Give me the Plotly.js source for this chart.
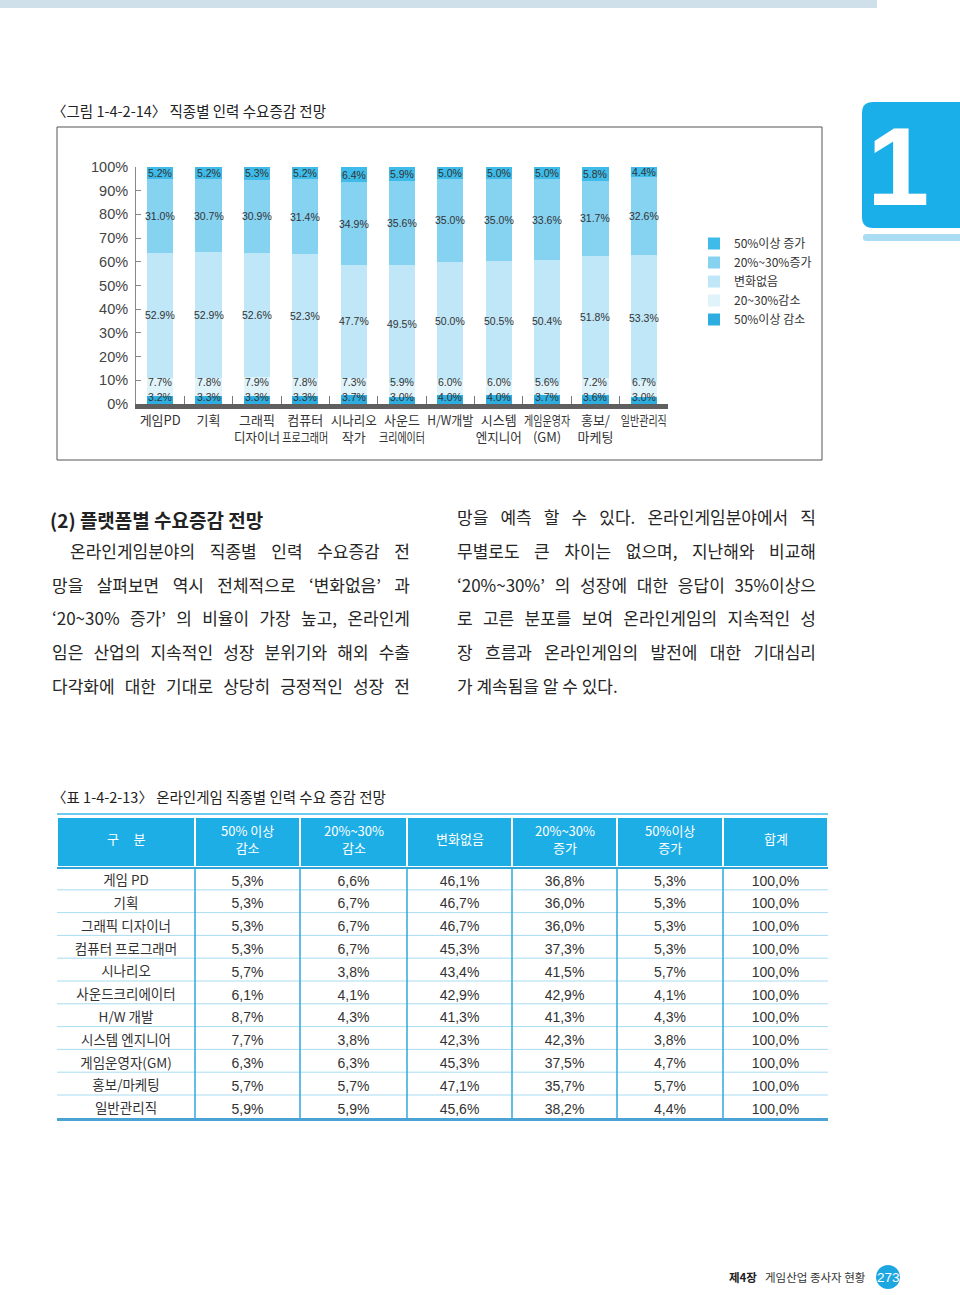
<!DOCTYPE html>
<html>
<head>
<meta charset="utf-8">
<script src="https://cdn.plot.ly/plotly-3.0.1.min.js"></script>
<style>
  html, body { margin:0; padding:0; background:#fff; }
  #wrap { position:relative; width:960px; height:1295px; overflow:hidden; }
  #plot { position:absolute; left:0; top:0; width:960px; height:1295px; }
  .ln { position:absolute; height:26px; line-height:26px; white-space:nowrap;
        font-family:'Noto Sans CJK KR','Noto Sans',sans-serif; font-size:17px; letter-spacing:0px;
        color:#262626; text-align:justify; text-align-last:justify; }
  .ln.last { text-align-last:left; }
  .hd { position:absolute; white-space:nowrap; font-family:'Noto Sans CJK KR','Noto Sans',sans-serif;
        font-weight:700; font-size:19px; color:#222; line-height:26px; height:26px; }
</style>
</head>
<body>
<div id="wrap">
  <div id="plot"></div>
  <div id="textlayer"></div>
</div>
<script>
// ---------------- DATA ----------------
const chartTitle = '〈그림 1-4-2-14〉 직종별 인력 수요증감 전망';
const categories = ['게임PD','기획','그래픽 디자이너','컴퓨터 프로그래머','시나리오 작가','사운드 크리에이터','H/W개발','시스템 엔지니어','게임운영자(GM)','홍보/마케팅','일반관리직'];
const catLabels = ['게임PD','기획','그래픽<br>디자이너','컴퓨터<br>프로그래머','시나리오<br>작가','사운드<br>크리에이터','H/W개발','시스템<br>엔지니어','게임운영자<br>(GM)','홍보/<br>마케팅','일반관리직'];
const seriesNames = ['50%이상 감소','20~30%감소','변화없음','20%~30%증가','50%이상 증가'];
const dec50    = [3.2,3.3,3.3,3.3,3.7,3.0,4.0,4.0,3.7,3.6,3.0];
const dec2030  = [7.7,7.8,7.9,7.8,7.3,5.9,6.0,6.0,5.6,7.2,6.7];
const noChange = [52.9,52.9,52.6,52.3,47.7,49.5,50.0,50.5,50.4,51.8,53.3];
const inc2030  = [31.0,30.7,30.9,31.4,34.9,35.6,35.0,35.0,33.6,31.7,32.6];
const inc50    = [5.2,5.2,5.3,5.2,6.4,5.9,5.0,5.0,5.0,5.8,4.4];
const yTicks   = [0,10,20,30,40,50,60,70,80,90,100];

const headingText = '(2) 플랫폼별 수요증감 전망';
const leftLines = [
  '온라인게임분야의 직종별 인력 수요증감 전',
  '망을 살펴보면 역시 전체적으로 ‘변화없음’ 과',
  '‘20~30% 증가’ 의 비율이 가장 높고, 온라인게',
  '임은 산업의 지속적인 성장 분위기와 해외 수출',
  '다각화에 대한 기대로 상당히 긍정적인 성장 전'
];
const rightLines = [
  '망을 예측 할 수 있다. 온라인게임분야에서 직',
  '무별로도 큰 차이는 없으며, 지난해와 비교해',
  '‘20%~30%’ 의 성장에 대한 응답이 35%이상으',
  '로 고른 분포를 보여 온라인게임의 지속적인 성',
  '장 흐름과 온라인게임의 발전에 대한 기대심리',
  '가 계속됨을 알 수 있다.'
];

const tableTitle = '〈표 1-4-2-13〉 온라인게임 직종별 인력 수요 증감 전망';
const tableHeaders = ['구\u00a0\u00a0\u00a0\u00a0\u00a0분','50% 이상<br>감소','20%~30%<br>감소','변화없음','20%~30%<br>증가','50%이상<br>증가','합계'];
const tableRows = ['게임 PD','기획','그래픽 디자이너','컴퓨터 프로그래머','시나리오','사운드크리에이터','H/W 개발','시스템 엔지니어','게임운영자(GM)','홍보/마케팅','일반관리직'];
const tDec50    = [5.3,5.3,5.3,5.3,5.7,6.1,8.7,7.7,6.3,5.7,5.9];
const tDec2030  = [6.6,6.7,6.7,6.7,3.8,4.1,4.3,3.8,6.3,5.7,5.9];
const tNoChange = [46.1,46.7,46.7,45.3,43.4,42.9,41.3,42.3,45.3,47.1,45.6];
const tInc2030  = [36.8,36.0,36.0,37.3,41.5,42.9,41.3,42.3,37.5,35.7,38.2];
const tInc50    = [5.3,5.3,5.3,5.3,5.7,4.1,4.3,3.8,4.7,5.7,4.4];
const tTotal    = [100,100,100,100,100,100,100,100,100,100,100];

const chapterLabel = '제4장';
const chapterTitle = '게임산업 종사자 현황';
const pageNumber = '273';
const tabNumber = '1';

// ---------------- STYLE ----------------
const W = 960, H = 1295;
const px = x => x / W;
const py = y => 1 - y / H;
const KR = "'Noto Sans CJK KR','Noto Sans',sans-serif";
const NARROW = "'Liberation Sans Narrow','Liberation Sans',Arial,sans-serif";
const barColors = ['#2eaee0','#dff3fb','#bfe7f8','#86d2f1','#3fbbe9'];
const series = [dec50, dec2030, noChange, inc2030, inc50];

// ---------------- TRACES ----------------
const traces = series.map((arr, k) => ({
  type: 'bar', name: seriesNames[k], x: categories, y: arr,
  width: 0.54, marker: { color: barColors[k], line: { width: 0 } },
  hoverinfo: 'skip', xaxis: 'x', yaxis: 'y'
}));

const fmt = v => v.toFixed(1).replace('.', ',') + '%';
const tableCols = [tDec50, tDec2030, tNoChange, tInc2030, tInc50, tTotal].map(a => a.map(fmt));
traces.push({
  type: 'table',
  domain: { x: [px(57), px(828)], y: [py(1140), py(817)] },
  columnwidth: [138,105,107,105,105,106,105],
  header: { values: tableHeaders.map(() => ''), height: 50,
            fill: { color: '#1eaee6' }, line: { color: '#ffffff', width: 2 } },
  cells: { values: [tableRows.map(s => s.replace(/ /g, '\u00a0'))].concat(tableCols),
           height: 22.8, align: 'center',
           fill: { color: 'rgba(0,0,0,0)' }, line: { color: 'rgba(0,0,0,0)', width: 0 },
           font: { family: [KR, NARROW, NARROW, NARROW, NARROW, NARROW, NARROW],
                   size: [13.5, 14, 14, 14, 14, 14, 14], color: '#333' } },
  showlegend: false
});

// ---------------- ANNOTATIONS ----------------
const ann = [];
ann.push({ xref:'paper', yref:'paper', x:px(50), y:py(110), xanchor:'left', yanchor:'middle',
  text: chartTitle, showarrow:false, font:{ family:KR, size:14.5, color:'#222' } });
categories.forEach((c, i) => {
  const tot = series.reduce((s, a) => s + a[i], 0);
  let cum = 0;
  series.forEach((arr, k) => {
    const v = arr[i] / tot * 100;
    const a = { xref:'x', yref:'y', x:c, text: arr[i].toFixed(1) + '%', showarrow:false,
      borderpad:0, font:{ family:NARROW, size:10.5, color:'#333' } };
    if (k === 0) { a.y = 0; a.yanchor = 'bottom'; }
    else if (k === 1) { a.y = 6.2; a.yanchor = 'bottom'; }
    else { a.y = cum + v / 2; a.yanchor = 'middle'; }
    cum += v;
    ann.push(a);
  });
});
ann.push({ xref:'paper', yref:'paper', x:px(50), y:py(797), xanchor:'left', yanchor:'middle',
  text: tableTitle, showarrow:false, font:{ family:KR, size:14.5, color:'#222' } });
const colBounds = [57,195,300,407,512,617,723,828];
tableHeaders.forEach((h, j) => {
  ann.push({ xref:'paper', yref:'paper', x:px((colBounds[j] + colBounds[j+1]) / 2), y:py(839),
    xanchor:'center', yanchor:'middle', text:h, showarrow:false,
    font:{ family:KR, size:13, color:'#ffffff' } });
});
ann.push({ xref:'paper', yref:'paper', x:px(898), y:py(166), xanchor:'center', yanchor:'middle',
  text:'<b>' + tabNumber + '</b>', showarrow:false, font:{ family:"'Liberation Sans',Arial,sans-serif", size:112, color:'#ffffff' } });
ann.push({ xref:'paper', yref:'paper', x:px(727), y:py(1277), xanchor:'left', yanchor:'middle',
  text:'<b>' + chapterLabel + '</b>', showarrow:false, font:{ family:KR, size:11.5, color:'#222' } });
ann.push({ xref:'paper', yref:'paper', x:px(763), y:py(1277), xanchor:'left', yanchor:'middle',
  text: chapterTitle, showarrow:false, font:{ family:KR, size:11.5, color:'#333' } });
ann.push({ xref:'paper', yref:'paper', x:px(888), y:py(1277), xanchor:'center', yanchor:'middle',
  text: pageNumber, showarrow:false, font:{ family:NARROW, size:13.5, color:'#ffffff' } });

// ---------------- SHAPES ----------------
const shapes = [];
shapes.push({ type:'rect', xref:'paper', yref:'paper', x0:px(0), x1:px(877), y0:py(8), y1:py(0),
  fillcolor:'#cfe0ea', line:{ width:0 }, layer:'below' });
shapes.push({ type:'rect', xref:'paper', yref:'paper', x0:px(57), x1:px(822), y0:py(460), y1:py(127),
  fillcolor:'rgba(0,0,0,0)', line:{ color:'#555', width:1 }, layer:'below' });
const tabPath = (x0, x1, y0, y1, r) =>
  `M ${px(x0+r)},${py(y0)} L ${px(x1)},${py(y0)} L ${px(x1)},${py(y1)} L ${px(x0+r)},${py(y1)} ` +
  `Q ${px(x0)},${py(y1)} ${px(x0)},${py(y1-r)} L ${px(x0)},${py(y0+r)} Q ${px(x0)},${py(y0)} ${px(x0+r)},${py(y0)} Z`;
shapes.push({ type:'path', xref:'paper', yref:'paper', path: tabPath(862, 960, 102, 228, 11),
  fillcolor:'#1bafe9', line:{ width:0 }, layer:'below' });
shapes.push({ type:'path', xref:'paper', yref:'paper', path: tabPath(863, 960, 234, 241, 3),
  fillcolor:'#aadcf3', line:{ width:0 }, layer:'below' });
shapes.push({ type:'line', xref:'paper', yref:'paper', x0:px(57), x1:px(828), y0:py(814), y1:py(814),
  line:{ color:'#6ccaf0', width:2 } });
shapes.push({ type:'line', xref:'paper', yref:'paper', x0:px(57), x1:px(828), y0:py(868), y1:py(868),
  line:{ color:'#2aa6dc', width:2 } });
for (let k = 1; k < tableRows.length; k++) {
  const y = 867 + k * 22.8;
  shapes.push({ type:'line', xref:'paper', yref:'paper', x0:px(57), x1:px(828), y0:py(y), y1:py(y),
    line:{ color:'#a9dcf2', width:1 } });
}
for (let j = 1; j < colBounds.length - 1; j++) {
  shapes.push({ type:'line', xref:'paper', yref:'paper', x0:px(colBounds[j]), x1:px(colBounds[j]),
    y0:py(868), y1:py(1118), line:{ color:'#2ea9de', width:1.5 } });
}
shapes.push({ type:'line', xref:'paper', yref:'paper', x0:px(57), x1:px(828), y0:py(1119.5), y1:py(1119.5),
  line:{ color:'#4aa3d3', width:3 } });
shapes.push({ type:'circle', xref:'paper', yref:'paper', x0:px(876), x1:px(900), y0:py(1289), y1:py(1265),
  fillcolor:'#1ea6e0', line:{ width:0 }, layer:'below' });

// ---------------- LAYOUT ----------------
const layout = {
  width: W, height: H, margin: { l:0, r:0, t:0, b:0, pad:0 },
  paper_bgcolor: '#ffffff', plot_bgcolor: 'rgba(0,0,0,0)',
  barmode: 'stack', barnorm: 'percent', hovermode: false,
  showlegend: true,
  legend: { x: px(694), y: py(229), xanchor:'left', yanchor:'top', traceorder:'reversed',
            font:{ family:KR, size:12, color:'#333' }, bgcolor:'rgba(0,0,0,0)', itemwidth:30 },
  xaxis: { domain:[px(136), px(668)], anchor:'y', type:'category', range:[-0.5, 10.5],
           tickmode:'array', tickvals: categories, ticktext: catLabels, tickangle: 0,
           showline:true, linecolor:'#5f5f5f', linewidth:5, mirror:false,
           ticks:'inside', tickson:'boundaries', ticklen:8, tickcolor:'#777', tickwidth:1,
           ticklabelstandoff: 0,
           tickfont:{ family:KR, size:13, color:'#333' }, showgrid:false, zeroline:false, fixedrange:true },
  yaxis: { domain:[py(404), py(167)], anchor:'x', range:[0, 100],
           tickmode:'array', tickvals: yTicks, ticktext: yTicks.map(v => v + '%'),
           ticks:'inside', ticklen:5, tickcolor:'#888', showline:true, linecolor:'#888', linewidth:1,
           ticklabelstandoff: 4,
           tickfont:{ family:NARROW, size:14.5, color:'#444' }, showgrid:false, zeroline:false, fixedrange:true },
  annotations: ann, shapes: shapes
};

Plotly.newPlot('plot', traces, layout, { staticPlot:true, displayModeBar:false }).then(() => {
  // condense the category labels (the reference uses a narrow face)
  document.querySelectorAll('#plot .xtick text').forEach(t => {
    const lines = t.querySelectorAll('tspan.line');
    const targets = lines.length ? Array.from(lines) : [t];
    targets.forEach(el => {
      const w = el.getComputedTextLength();
      const maxW = 46;
      if (w > maxW) {
        el.setAttribute('textLength', maxW);
        el.setAttribute('lengthAdjust', 'spacingAndGlyphs');
      }
    });
  });
});

// ---------------- TEXT BLOCK ----------------
const tl = document.getElementById('textlayer');
function addDiv(cls, text, left, centerY, width) {
  const d = document.createElement('div');
  d.className = cls;
  d.textContent = text;
  d.style.left = left + 'px';
  d.style.top = (centerY - 13) + 'px';
  if (width) d.style.width = width + 'px';
  tl.appendChild(d);
}
addDiv('hd', headingText, 50, 520);
const lineY = [551, 585, 618, 652, 686];
leftLines.forEach((t, i) => addDiv('ln', t, i === 0 ? 70 : 52, lineY[i], i === 0 ? 340 : 358));
const rLineY = [517, 551, 585, 618, 652, 686];
rightLines.forEach((t, i) => addDiv(i === rightLines.length - 1 ? 'ln last' : 'ln', t, 457, rLineY[i], 359));
</script>
</body>
</html>
